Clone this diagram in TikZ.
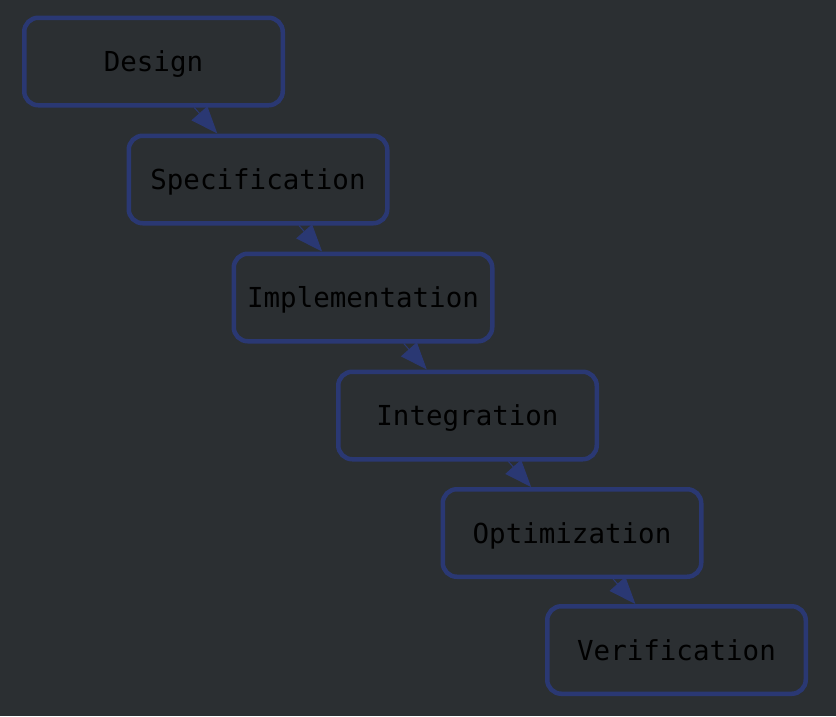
\documentclass[tikz,border=0pt]{standalone}
\usepackage{fontspec}
\setmonofont{DejaVu Sans Mono}
\usetikzlibrary{arrows.meta}
\definecolor{bgc}{RGB}{43,47,50}
\definecolor{navy}{RGB}{42,56,115}
\tikzset{
  stage/.style={draw=navy, line width=4.5pt, rounded corners=14pt, minimum width=258.5pt, minimum height=87.5pt, inner sep=0pt, outer sep=2.25pt, text=black, text height=20pt, text depth=0pt, font=\ttfamily\fontsize{27.5}{33}\selectfont},
  flow/.style={draw=navy, line width=1pt, -{Triangle[length=27pt,width=21pt]}, fill=navy}
}
\begin{document}
\begin{tikzpicture}[x=1pt,y=-1pt]
\fill[bgc] (0,0) rectangle (836,716);
\useasboundingbox (0,0) rectangle (836,716);
\node[stage] (d) at (153.5,61.5) {Design};
\node[stage] (s) at (258,179.5) {Specification};
\node[stage] (i) at (363,297.5) {Implementation};
\node[stage] (g) at (467.5,415.5) {Integration};
\node[stage] (o) at (572,533) {Optimization};
\node[stage] (v) at (676.5,650) {Verification};
\draw[flow] (d) -- (s);
\draw[flow] (s) -- (i);
\draw[flow] (i) -- (g);
\draw[flow] (g) -- (o);
\draw[flow] (o) -- (v);
\end{tikzpicture}
\end{document}
